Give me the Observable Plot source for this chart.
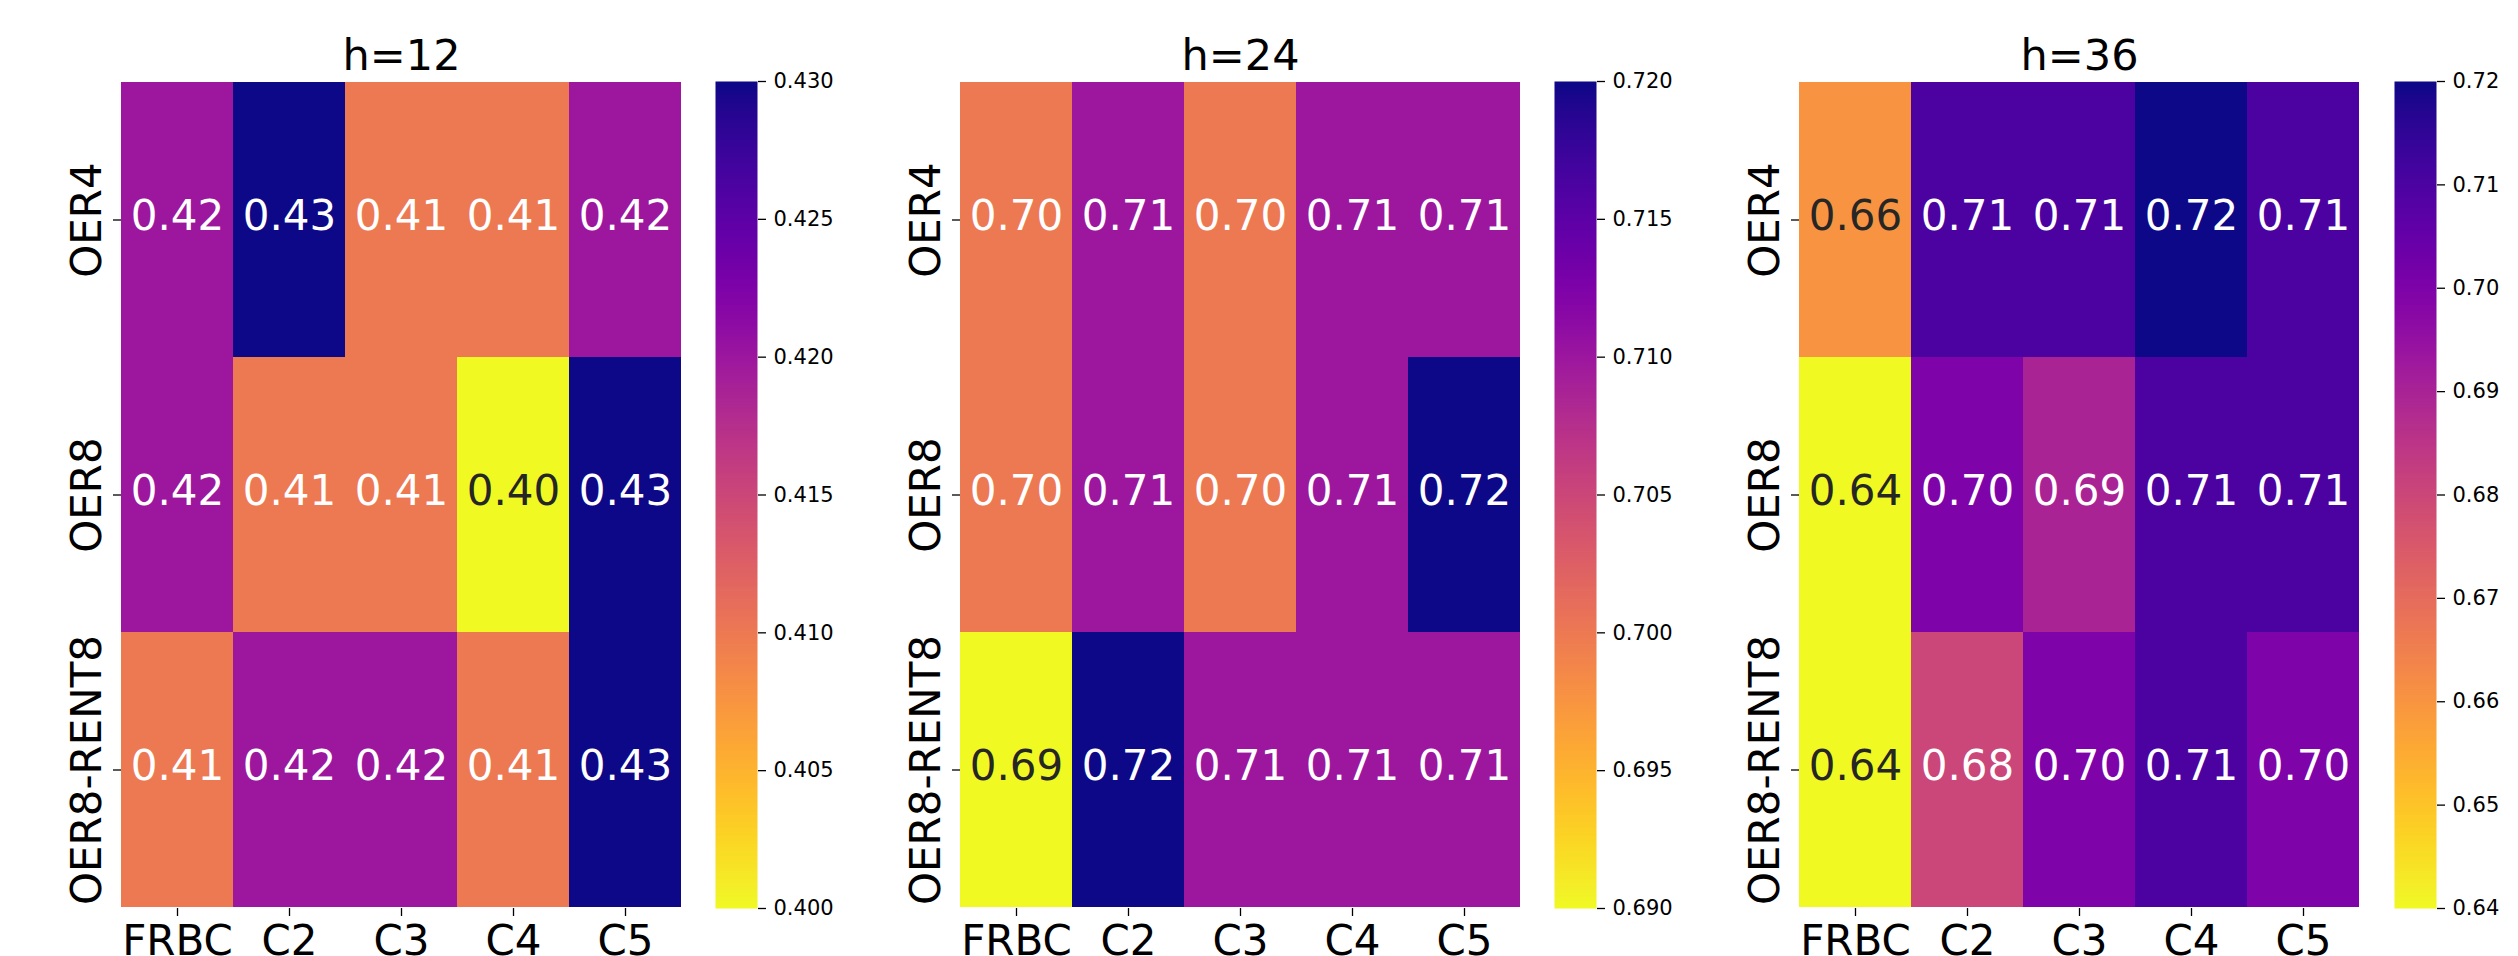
<!DOCTYPE html>
<html>
<head>
<meta charset="utf-8">
<script src="https://cdn.jsdelivr.net/npm/d3@7"></script>
<script src="https://cdn.jsdelivr.net/npm/@observablehq/plot@0.6"></script>
<style>
  html, body { margin: 0; padding: 0; background: #fff; overflow: hidden; }
  #root { position: relative; width: 2518px; height: 956px; background: #fff; font-family: "DejaVu Sans", sans-serif; }
  #root svg { position: absolute; top: 0; overflow: visible; }
</style>
</head>
<body>
<div id="root"></div>
<script>
// ---- data ----
const columns = ["FRBC", "C2", "C3", "C4", "C5"];
const rows = ["OER4", "OER8", "OER8-RENT8"];
const titles = ["h=12", "h=24", "h=36"];

const valuesH12 = [
  [0.42, 0.43, 0.41, 0.41, 0.42],
  [0.42, 0.41, 0.41, 0.40, 0.43],
  [0.41, 0.42, 0.42, 0.41, 0.43]
];
const valuesH24 = [
  [0.70, 0.71, 0.70, 0.71, 0.71],
  [0.70, 0.71, 0.70, 0.71, 0.72],
  [0.69, 0.72, 0.71, 0.71, 0.71]
];
const valuesH36 = [
  [0.66, 0.71, 0.71, 0.72, 0.71],
  [0.64, 0.70, 0.69, 0.71, 0.71],
  [0.64, 0.68, 0.70, 0.71, 0.70]
];

const domainH12 = [0.400, 0.430];
const domainH24 = [0.690, 0.720];
const domainH36 = [0.64, 0.72];

const ticksH12 = [0.400, 0.405, 0.410, 0.415, 0.420, 0.425, 0.430];
const ticksH24 = [0.690, 0.695, 0.700, 0.705, 0.710, 0.715, 0.720];
const ticksH36 = [0.64, 0.65, 0.66, 0.67, 0.68, 0.69, 0.70, 0.71, 0.72];
const tickFormats = [".3f", ".3f", ".2f"];

// ---- layout ----
const panels = [
  {title: titles[0], values: valuesH12, domain: domainH12, ticks: ticksH12, fmt: tickFormats[0], heatLeft: 121, barLeft: 715},
  {title: titles[1], values: valuesH24, domain: domainH24, ticks: ticksH24, fmt: tickFormats[1], heatLeft: 960, barLeft: 1554},
  {title: titles[2], values: valuesH36, domain: domainH36, ticks: ticksH36, fmt: tickFormats[2], heatLeft: 1799, barLeft: 2394}
];

const H = 956, TOP = 81, BOTTOM = 48, HEAT_W = 560, BAR_W = 42;
const FONT = "DejaVu Sans";

function relLum(c) {
  const {r, g, b} = d3.rgb(c);
  const f = v => { v /= 255; return v <= 0.03928 ? v / 12.92 : Math.pow((v + 0.055) / 1.055, 2.4); };
  return 0.2126 * f(r) + 0.7152 * f(g) + 0.0722 * f(b);
}

const root = document.getElementById("root");

for (const p of panels) {
  const colorOpts = {type: "linear", scheme: "plasma", reverse: true, domain: p.domain};
  const cscale = Plot.scale({color: colorOpts});
  const data = [];
  rows.forEach((r, i) => columns.forEach((c, j) => {
    const v = p.values[i][j];
    data.push({row: r, col: c, value: v, dark: relLum(cscale.apply(v)) > 0.408});
  }));

  const heat = Plot.plot({
    width: 121 + HEAT_W + 20,
    height: H,
    marginLeft: 121,
    marginRight: 20,
    marginTop: TOP,
    marginBottom: BOTTOM,
    style: {fontFamily: FONT, background: "transparent", color: "#000"},
    x: {domain: columns, padding: 0, label: null},
    y: {domain: rows, padding: 0, label: null},
    color: colorOpts,
    marks: [
      Plot.cell(data, {x: "col", y: "row", fill: "value", inset: 0, shapeRendering: "crispEdges"}),
      Plot.text(data, {filter: d => !d.dark, x: "col", y: "row", text: d => d3.format(".2f")(d.value), fill: "white", fontSize: 42, dy: -3}),
      Plot.text(data, {filter: d => d.dark, x: "col", y: "row", text: d => d3.format(".2f")(d.value), fill: "#262626", fontSize: 42, dy: -3}),
      Plot.axisX({tickSize: 8, tickPadding: 9, fontSize: 42, strokeWidth: 1.3, label: null}),
      Plot.axisY({tickSize: 8, tickPadding: 13, tickRotate: -90, textAnchor: "middle", lineAnchor: "bottom", fontSize: 42, strokeWidth: 1.3, label: null}),
      Plot.text([p.title], {frameAnchor: "top", lineAnchor: "bottom", dy: -12, fontSize: 43, fill: "#000"})
    ]
  });
  heat.style.left = (p.heatLeft - 121) + "px";
  root.appendChild(heat);

  const bar = Plot.plot({
    width: BAR_W + 100,
    height: H,
    marginLeft: 0,
    marginRight: 100,
    marginTop: TOP,
    marginBottom: BOTTOM,
    style: {fontFamily: FONT, background: "transparent", color: "#000"},
    x: {domain: [0, 1], axis: null},
    y: {domain: p.domain, label: null},
    color: colorOpts,
    marks: [
      Plot.raster({x1: 0, x2: 1, y1: p.domain[0], y2: p.domain[1], width: 1, height: 600, fill: (x, y) => y, imageRendering: "auto"}),
      Plot.axisY({anchor: "right", ticks: p.ticks, tickFormat: d3.format(p.fmt), tickSize: 8, tickPadding: 8, fontSize: 21, strokeWidth: 1.3, label: null})
    ]
  });
  bar.style.left = p.barLeft + "px";
  root.appendChild(bar);
}
</script>
</body>
</html>
